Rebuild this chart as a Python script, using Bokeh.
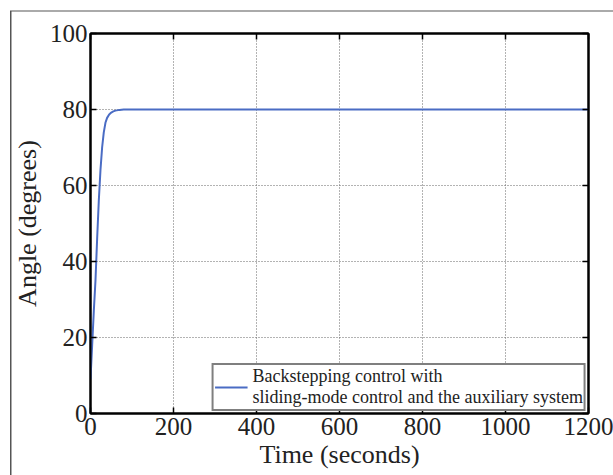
from bokeh.plotting import figure
from bokeh.models import LinearAxis, FixedTicker, Range1d, Legend, LegendItem
from bokeh.embed import file_html
from bokeh.resources import INLINE

# data
time_s = [0, 4, 8, 12, 16, 20, 24, 28, 32, 36, 40, 45, 50, 55, 60, 70, 80, 100, 200, 400, 600, 800, 1000, 1200]
angle_deg = [9, 18, 27, 35, 46, 56, 64, 70, 74, 76.5, 77.8, 78.7, 79.2, 79.5, 79.7, 79.9, 80, 80, 80, 80, 80, 80, 80, 80]
x_ticks = [0, 200, 400, 600, 800, 1000, 1200]
y_ticks = [0, 20, 40, 60, 80, 100]
series_label = "Backstepping control with\nsliding-mode control and the auxiliary system"

SERIF = "Liberation Serif"

p = figure(width=613, height=475, output_backend="svg", toolbar_location=None,
           x_range=Range1d(0, 1200), y_range=Range1d(0, 100),
           min_border_left=90, min_border_right=25, min_border_top=33, min_border_bottom=62)
p.background_fill_color = "white"
p.border_fill_color = "white"
p.border_fill_alpha = 0
p.outline_line_color = "black"
p.outline_line_width = 2
# outer frame lines of the scanned figure (left and top)
p.styles = {
    "background-color": "white",
    "background-image": "linear-gradient(#555555, #555555), linear-gradient(#aaaaaa, #aaaaaa)",
    "background-size": "1.5px 464px, 603px 2px",
    "background-position": "10px 11px, 10px 10px",
    "background-repeat": "no-repeat",
}

r = p.line(time_s, angle_deg, line_color="#4a6cc4", line_width=2)

for ax in (p.xaxis[0], p.yaxis[0]):
    ax.axis_line_width = 2
    ax.axis_line_color = "black"
    ax.major_tick_in = 6
    ax.major_tick_out = 0
    ax.minor_tick_in = 0
    ax.minor_tick_out = 0
    ax.major_tick_line_width = 1.5
    ax.major_label_text_font = SERIF
    ax.major_label_text_font_size = "25px"
    ax.major_label_text_color = "#222222"
    ax.axis_label_text_font = SERIF
    ax.axis_label_text_font_size = "26px"
    ax.axis_label_text_font_style = "normal"
    ax.axis_label_text_color = "#222222"

p.xaxis[0].ticker = FixedTicker(ticks=x_ticks)
p.yaxis[0].ticker = FixedTicker(ticks=y_ticks)
p.xaxis[0].axis_label = "Time (seconds)"
p.yaxis[0].axis_label = "Angle (degrees)"
p.xaxis[0].major_label_standoff = 4
p.yaxis[0].major_label_standoff = 3
p.xaxis[0].axis_label_standoff = 2
p.yaxis[0].axis_label_standoff = 5

for loc, ticks in (("above", x_ticks), ("right", y_ticks)):
    ax = LinearAxis(ticker=FixedTicker(ticks=ticks))
    ax.axis_line_width = 2
    ax.major_tick_in = 6
    ax.major_tick_out = 0
    ax.minor_tick_in = 0
    ax.minor_tick_out = 0
    ax.major_tick_line_width = 1.5
    ax.major_label_text_font_size = "0px"
    ax.major_label_standoff = 0
    p.add_layout(ax, loc)

p.xgrid.ticker = FixedTicker(ticks=x_ticks)
p.ygrid.ticker = FixedTicker(ticks=y_ticks)
for g in (p.xgrid[0], p.ygrid[0]):
    g.grid_line_color = "#666666"
    g.grid_line_dash = "1 2"
    g.grid_line_width = 1

legend = Legend(items=[LegendItem(label=series_label, renderers=[r])],
                location="bottom_right")
legend.margin = 2
legend.padding = 1
legend.spacing = 0
legend.glyph_width = 33
legend.label_standoff = 5
legend.border_line_color = "black"
legend.border_line_width = 2
legend.background_fill_alpha = 1
legend.label_text_font = SERIF
legend.label_text_font_size = "18px"
legend.label_text_color = "#222222"
legend.label_text_line_height = 0.9
p.add_layout(legend, "center")

open("out.html", "w").write(file_html(p, INLINE))
